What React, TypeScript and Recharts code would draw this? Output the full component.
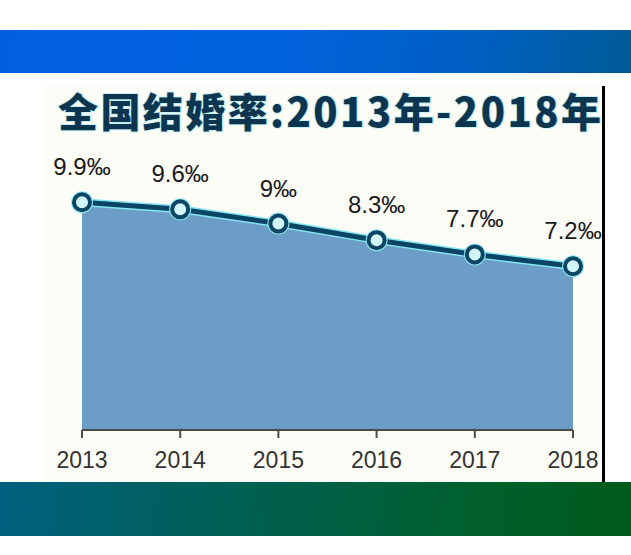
import { ComposedChart, Area, Line, XAxis, YAxis, LabelList } from 'recharts'

const YEARS = ['2013', '2014', '2015', '2016', '2017', '2018']
const RATES = [9.9, 9.6, 9, 8.3, 7.7, 7.2]
const TITLE = '全国结婚率:2013年-2018年'

const data = YEARS.map((year, i) => ({ year, rate: RATES[i] }))

export default function App() {
  return (
    <div style={{ position: 'absolute', left: 0, top: 0, width: 631, height: 555, background: '#fff', overflow: 'hidden' }}>
      {/* top banner */}
      <div
        style={{
          position: 'absolute', left: 0, top: 30, width: 631, height: 43,
          background: 'linear-gradient(100deg, #005fe0 0%, #0062dc 45%, #005fc2 75%, #005c96 100%)',
        }}
      />
      {/* chart panel */}
      <div style={{ position: 'absolute', left: 46, top: 86, width: 557, height: 396, background: '#fdfdf7' }} />
      <div style={{ position: 'absolute', left: 602, top: 86, width: 3, height: 396, background: '#000' }} />
      {/* bottom banner */}
      <div
        style={{
          position: 'absolute', left: 0, top: 482, width: 631, height: 54,
          background: 'linear-gradient(100deg, #00607f 0%, #006050 40%, #005f2c 75%, #005c1c 100%)',
        }}
      />
      <svg width={631} height={555} style={{ position: 'absolute', left: 0, top: 0 }}>
        <text
          x={58}
          y={127}
          textLength={543}
          lengthAdjust="spacing"
          fontFamily="'Noto Sans CJK SC', 'Noto Sans', sans-serif"
          fontWeight={900}
          fontSize={40}
          fill="#0e3550"
          stroke="#c6f1f5"
          strokeWidth={2}
          paintOrder="stroke"
        >
          {TITLE}
        </text>
      </svg>
      <div style={{ position: 'absolute', left: 0, top: 0 }}>
        <ComposedChart width={631} height={555} data={data} margin={{ top: 150, right: 58, bottom: 85, left: 82 }}>
          <XAxis
            dataKey="year"
            height={40}
            tickSize={8}
            tickMargin={14}
            stroke="#4a4a4a"
            strokeWidth={2}
            tick={{ fill: '#333', fontSize: 23, fontFamily: "'Liberation Sans', Arial, sans-serif" }}
          />
          <YAxis hide domain={[0.3, 12.1]} />
          <Area
            type="linear"
            dataKey="rate"
            fill="#6b9dc6"
            fillOpacity={1}
            stroke="#86e6f2"
            strokeWidth={8}
            dot={{ r: 11, fill: '#8ee9f3', stroke: 'none' }}
            isAnimationActive={false}
          />
          <Line
            type="linear"
            dataKey="rate"
            stroke="#0a4566"
            strokeWidth={5}
            dot={{ r: 8, fill: '#d2f7f9', stroke: '#0a4566', strokeWidth: 4 }}
            isAnimationActive={false}
          >
            <LabelList
              dataKey="rate"
              position="top"
              offset={27}
              formatter={(v: number) => `${v}‰`}
              style={{ fill: '#1a1a1a', fontSize: 24, fontFamily: "'Liberation Sans', Arial, sans-serif" }}
            />
          </Line>
        </ComposedChart>
      </div>
    </div>
  )
}
